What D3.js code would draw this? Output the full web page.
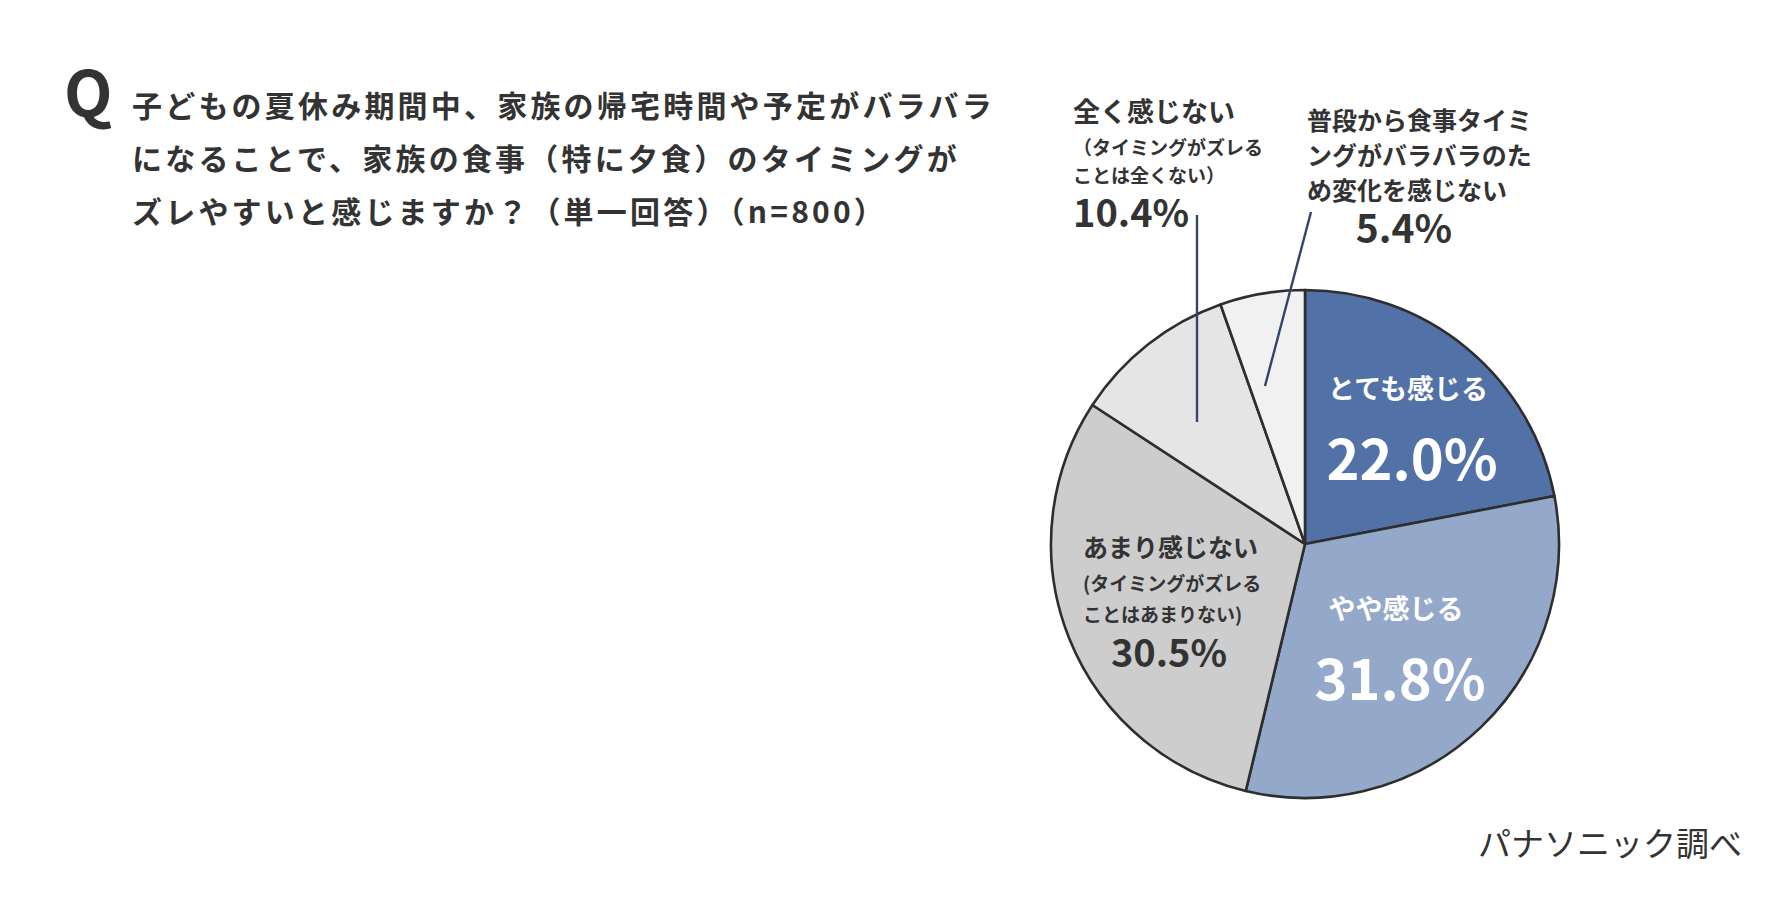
<!DOCTYPE html>
<html lang="ja">
<head>
<meta charset="utf-8">
<title>夏休み期間中の食事タイミング</title>
<script src="https://cdn.jsdelivr.net/npm/d3@7"></script>
<style>
    html, body { margin: 0; padding: 0; background: #fff; }
    svg { display: block; font-family: "Noto Sans CJK JP", "Noto Sans", sans-serif; }
</style>
</head>
<body>
<div id="chart"></div>
<script>
// Data
const categories = ['とても感じる', 'やや感じる', 'あまり感じない', '全く感じない', '普段から食事タイミングがバラバラのため変化を感じない'];
const values = [22.0, 31.8, 30.5, 10.4, 5.4];
const titleLines = [
    '子どもの夏休み期間中、家族の帰宅時間や予定がバラバラ',
    'になることで、家族の食事（特に夕食）のタイミングが',
    'ズレやすいと感じますか？（単一回答）（n=800）'
];
// label text per slice: main lines and sub lines
const mainLines = [
    ['とても感じる'],
    ['やや感じる'],
    ['あまり感じない'],
    ['全く感じない'],
    ['普段から食事タイミ', 'ングがバラバラのた', 'め変化を感じない']
];
const subLines = [
    [],
    [],
    ['(タイミングがズレる', 'ことはあまりない)'],
    ['（タイミングがズレる', 'ことは全くない）'],
    []
];
const source = 'パナソニック調べ';

const colors = ['#5271a6', '#94a8ca', '#cdcdcd', '#e5e5e5', '#f1f1f1'];
const textDark = '#333333';

const width = 1788;
const height = 898;
const cx = 1305, cy = 544, radius = 254;

// Label layout (positions only)
const labelLayout = [
    { x: 1408, y: 399, anchor: 'middle', size: 27, lh: 0, color: '#fff', px: 1412, py: 480, pAnchor: 'middle', pSize: 56 },
    { x: 1396, y: 619, anchor: 'middle', size: 27, lh: 0, color: '#fff', px: 1400, py: 700, pAnchor: 'middle', pSize: 56 },
    { x: 1083, y: 557, anchor: 'start', size: 25, lh: 0, subY: 591, subLh: 31, subSize: 19, color: textDark, px: 1169, py: 667, pAnchor: 'middle', pSize: 38 },
    { x: 1073, y: 122, anchor: 'start', size: 27, lh: 0, subY: 155, subLh: 28, subSize: 19, color: textDark, px: 1073, py: 227, pAnchor: 'start', pSize: 38,
      leader: [[1197, 215], [1197, 422]] },
    { x: 1307, y: 130, anchor: 'start', size: 25, lh: 35, color: textDark, px: 1404, py: 243, pAnchor: 'middle', pSize: 39,
      leader: [[1311, 212], [1265, 386]] }
];

const svg = d3.select('#chart')
    .append('svg')
    .attr('width', width)
    .attr('height', height)
    .attr('viewBox', [0, 0, width, height]);

svg.append('rect').attr('width', width).attr('height', height).attr('fill', '#fff');

// Question title
svg.append('text')
    .attr('x', 64)
    .attr('y', 117)
    .attr('font-size', 63)
    .attr('font-weight', 700)
    .attr('fill', textDark)
    .text('Q');

svg.append('g')
    .selectAll('text')
    .data(titleLines)
    .join('text')
    .attr('x', 132)
    .attr('y', (d, i) => 117 + i * 53)
    .attr('font-size', 30)
    .attr('font-weight', 700)
    .attr('letter-spacing', 3.2)
    .attr('fill', textDark)
    .text(d => d);

// Pie
const pie = d3.pie().sort(null).value(d => d);
const arc = d3.arc().innerRadius(0).outerRadius(radius);
const arcs = pie(values);

const pieG = svg.append('g').attr('transform', `translate(${cx},${cy})`);

pieG.selectAll('path')
    .data(arcs)
    .join('path')
    .attr('d', arc)
    .attr('fill', (d, i) => colors[i])
    .attr('stroke', '#2e2e2e')
    .attr('stroke-width', 2.6)
    .attr('stroke-linejoin', 'round');

// Leader lines
labelLayout.forEach(l => {
    if (!l.leader) return;
    svg.append('line')
        .attr('x1', l.leader[0][0]).attr('y1', l.leader[0][1])
        .attr('x2', l.leader[1][0]).attr('y2', l.leader[1][1])
        .attr('stroke', '#2f4669')
        .attr('stroke-width', 2.4);
});

// Labels
const labelG = svg.append('g');
categories.forEach((cat, i) => {
    const l = labelLayout[i];
    mainLines[i].forEach((line, j) => {
        labelG.append('text')
            .attr('x', l.x)
            .attr('y', l.y + j * l.lh)
            .attr('text-anchor', l.anchor)
            .attr('font-size', l.size)
            .attr('font-weight', 700)
            .attr('fill', l.color)
            .text(line);
    });
    subLines[i].forEach((line, j) => {
        labelG.append('text')
            .attr('x', l.x)
            .attr('y', l.subY + j * l.subLh)
            .attr('text-anchor', l.anchor)
            .attr('font-size', l.subSize)
            .attr('font-weight', 700)
            .attr('fill', l.color)
            .text(line);
    });
    labelG.append('text')
        .attr('x', l.px)
        .attr('y', l.py)
        .attr('text-anchor', l.pAnchor)
        .attr('font-size', l.pSize)
        .attr('font-weight', 700)
        .attr('fill', l.color)
        .text(d3.format('.1f')(values[i]) + '%');
});

// Source note
svg.append('text')
    .attr('x', 1742)
    .attr('y', 856)
    .attr('text-anchor', 'end')
    .attr('font-size', 33)
    .attr('font-weight', 400)
    .attr('fill', textDark)
    .text(source);
</script>
</body>
</html>
